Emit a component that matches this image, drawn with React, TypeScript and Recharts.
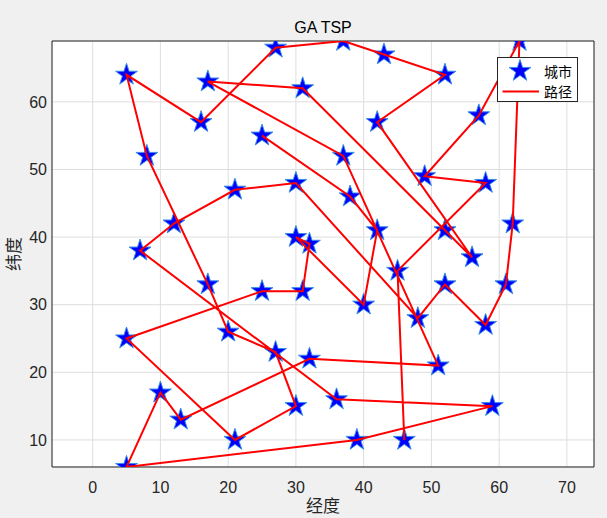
import React from 'react';
import { ScatterChart, Scatter, XAxis, YAxis, CartesianGrid, Legend } from 'recharts';

// City coordinates, listed in the order of the GA route
const routeX = [25, 38, 42, 40, 30, 32, 31, 25, 5, 21, 30, 27, 20, 17, 8, 5, 16, 27, 37, 43, 52, 42, 56, 52, 31, 17, 37, 51, 32, 13, 10, 5, 39, 59, 36, 7, 12, 21, 30, 48, 52, 58, 61, 62, 63, 57, 49, 58, 45, 46];
const routeY = [55, 46, 41, 30, 40, 39, 32, 32, 25, 10, 15, 23, 26, 33, 52, 64, 57, 68, 69, 67, 64, 57, 37, 41, 62, 63, 52, 21, 22, 13, 17, 6, 10, 15, 16, 38, 42, 47, 48, 28, 33, 27, 33, 42, 69, 58, 49, 48, 35, 10];

const xTicks = [0, 10, 20, 30, 40, 50, 60, 70];
const yTicks = [10, 20, 30, 40, 50, 60];
const xDomain = [-6, 74];
const yDomain = [6, 69];

const titleText = 'GA TSP';
const xLabelText = '经度';
const yLabelText = '纬度';
const cityName = '城市';
const routeName = '路径';

const points = routeX.map((x, i) => ({ x, y: routeY[i] }));

const W = 607;
const H = 518;
const AXIS = '#262626';
const LATIN = '"Liberation Sans", Arial, Helvetica, sans-serif';
const CJK = '"Noto Sans CJK SC", "Noto Sans", sans-serif';
const THIN = 0.01;

function starPath(cx: number, cy: number, R: number) {
  const r = R * 0.382;
  let d = '';
  for (let i = 0; i < 10; i++) {
    const a = ((-90 + i * 36) * Math.PI) / 180;
    const rad = i % 2 === 0 ? R : r;
    const px = cx + rad * Math.cos(a);
    const py = cy + rad * Math.sin(a);
    d += (i === 0 ? 'M' : 'L') + px.toFixed(2) + ',' + py.toFixed(2);
  }
  return d + 'Z';
}

const StarShape = (props: any) => {
  const { cx, cy } = props;
  if (cx == null || cy == null) return <g />;
  return <path d={starPath(cx, cy, 11.5)} fill="#0000ff" stroke="#3a8ee6" strokeWidth={1} />;
};

const NoShape = () => <g />;

const LegendBox = () => (
  <svg width={81} height={45} style={{ display: 'block' }}>
    <rect x={0.5} y={0.5} width={80} height={44} fill="#ffffff" stroke={AXIS} strokeWidth={1} />
    <path d={starPath(23, 14, 11.5)} fill="#0000ff" stroke="#3a8ee6" strokeWidth={1} />
    <text x={47} y={19.5} fontSize={14} fontFamily={CJK} fill="#000">{cityName}</text>
    <line x1={5.5} y1={34.5} x2={42} y2={34.5} stroke="#ff0000" strokeWidth={2} />
    <text x={47} y={40} fontSize={14} fontFamily={CJK} fill="#000">{routeName}</text>
  </svg>
);

const boxAxisProps = {
  type: 'number' as const,
  allowDataOverflow: true,
  mirror: true,
  tick: false,
  tickSize: 5,
  tickLine: { stroke: AXIS },
  axisLine: { stroke: AXIS },
  interval: 0 as const,
};

export default function App() {
  return (
    <div style={{ position: 'absolute', left: 0, top: 0, width: W, height: H, background: '#f0f0f0', overflow: 'hidden' }}>
      <ScatterChart width={W} height={H} margin={{ top: 41, right: 13, bottom: 51, left: 52 }}>
        <CartesianGrid xAxisId="x" yAxisId="y" stroke="#dedede" fill="#ffffff" fillOpacity={1} />
        {/* labelled axes */}
        <XAxis
          xAxisId="x"
          type="number"
          dataKey="x"
          domain={xDomain}
          ticks={xTicks}
          allowDataOverflow
          orientation="bottom"
          height={THIN}
          tickLine={false}
          axisLine={false}
          tickSize={0}
          tickMargin={15}
          interval={0}
          tick={{ fill: AXIS, fontSize: 16, fontFamily: LATIN }}
        />
        <YAxis
          yAxisId="y"
          type="number"
          dataKey="y"
          domain={yDomain}
          ticks={yTicks}
          allowDataOverflow
          orientation="left"
          width={THIN}
          tickLine={false}
          axisLine={false}
          tickSize={0}
          tickMargin={5}
          interval={0}
          tick={{ fill: AXIS, fontSize: 16, fontFamily: LATIN }}
        />
        {/* box with inward ticks */}
        <XAxis xAxisId="xb" domain={xDomain} ticks={xTicks} orientation="bottom" height={THIN} {...boxAxisProps} />
        <XAxis xAxisId="xt" domain={xDomain} ticks={xTicks} orientation="top" height={THIN} {...boxAxisProps} />
        <YAxis yAxisId="yl" domain={yDomain} ticks={yTicks} orientation="left" width={THIN} {...boxAxisProps} />
        <YAxis yAxisId="yr" domain={yDomain} ticks={yTicks} orientation="right" width={THIN} {...boxAxisProps} />
        <Scatter name={cityName} xAxisId="x" yAxisId="y" data={points} shape={StarShape} isAnimationActive={false} />
        <Scatter
          name={routeName}
          xAxisId="x"
          yAxisId="y"
          data={points}
          shape={NoShape}
          line={{ stroke: '#ff0000', strokeWidth: 2 }}
          lineType="joint"
          fill="#ff0000"
          isAnimationActive={false}
        />
        <Legend
          layout="vertical"
          align="center"
          verticalAlign="middle"
          content={() => <LegendBox />}
          wrapperStyle={{ position: 'absolute', left: 497, top: 57, width: 81, height: 45, margin: 0, padding: 0 }}
        />
      </ScatterChart>
      <svg width={W} height={H} style={{ position: 'absolute', left: 0, top: 0, pointerEvents: 'none' }}>
        <text x={323} y={32.5} textAnchor="middle" fontSize={16} fontFamily={LATIN} fill="#000">{titleText}</text>
        <text x={323} y={512} textAnchor="middle" fontSize={17} fontFamily={CJK} fill={AXIS}>{xLabelText}</text>
        <text x={20} y={254} textAnchor="middle" fontSize={17} fontFamily={CJK} fill={AXIS} transform="rotate(-90 20 254)">{yLabelText}</text>
      </svg>
    </div>
  );
}
